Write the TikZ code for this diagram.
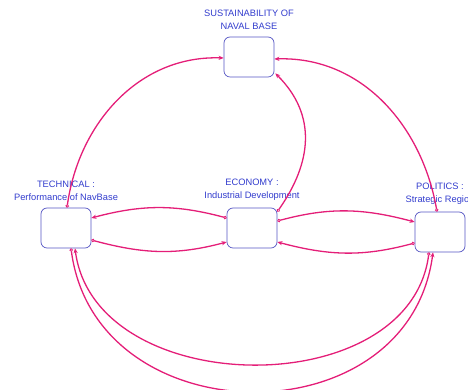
\documentclass[tikz,border=0pt]{standalone}
\usepackage{fontspec}
\setmainfont{Liberation Sans}
\usetikzlibrary{positioning,arrows.meta}
\definecolor{linkpink}{RGB}{228,30,120}
\definecolor{boxblue}{RGB}{85,85,195}
\definecolor{textblue}{RGB}{50,60,205}

\newcommand{\sector}[4]{
\node[sectorbox] (#1) at (#2, #3) {};
\node[sectorlabel, above=7pt of #1] (#1-label) {#4};
}

\begin{document}
\begin{tikzpicture}[x=1pt, y=1pt,
  sectorbox/.style={draw=boxblue, line width=0.7pt, rounded corners=6pt,
    minimum width=50pt, minimum height=40pt, inner sep=0pt},
  sectorlabel/.style={text=textblue, align=center, inner sep=0pt,
    font=\fontsize{9.3}{13}\selectfont},
  link/.style={draw=linkpink, line width=1.3pt,
    {Circle[open, length=3.4pt, line width=0.8pt]}-{Stealth[length=5pt, width=4.2pt]}}]
\useasboundingbox (0,0) rectangle (468,390);

\sector{sust}{249}{333}{SUSTAINABILITY OF\\NAVAL BASE}
\sector{tech}{66}{162}{TECHNICAL :\\Performance of NavBase}
\sector{econ}{252}{162}{ECONOMY :\\Industrial Development}
\sector{poli}{440}{158}{POLITICS :\\Strategic Region}

\draw[link] ([xshift=1pt]tech.north) to[out=82, in=178] ([yshift=-1pt]sust.west);
\draw[link] ([xshift=-3pt]poli.north) to[out=100, in=2] ([yshift=-2pt]sust.east);
\draw[link] ([yshift=-4pt]econ.north east) to[out=55, in=-45, looseness=1.1] ([xshift=1pt, yshift=4pt]sust.south east);

\draw[link] ([yshift=10pt]econ.west) to[out=165, in=15] ([yshift=10pt]tech.east);
\draw[link] ([yshift=-12pt]tech.east) to[out=-15, in=195] ([yshift=-14pt]econ.west);
\draw[link] ([yshift=7pt]econ.east) to[out=15, in=165] ([yshift=10pt]poli.west);
\draw[link] ([yshift=-11pt]poli.west) to[out=195, in=-15] ([yshift=-14pt]econ.east);

\draw[link] ([xshift=5pt]tech.south) .. controls +(25,-188) and +(-25,-188) .. ([xshift=-7pt]poli.south);
\draw[link] ([xshift=-11pt]poli.south) .. controls +(-20,-152) and +(20,-152) .. ([xshift=9pt]tech.south);
% \draw[help lines] (0,0) grid[step=20] (468,390);
\end{tikzpicture}
\end{document}
